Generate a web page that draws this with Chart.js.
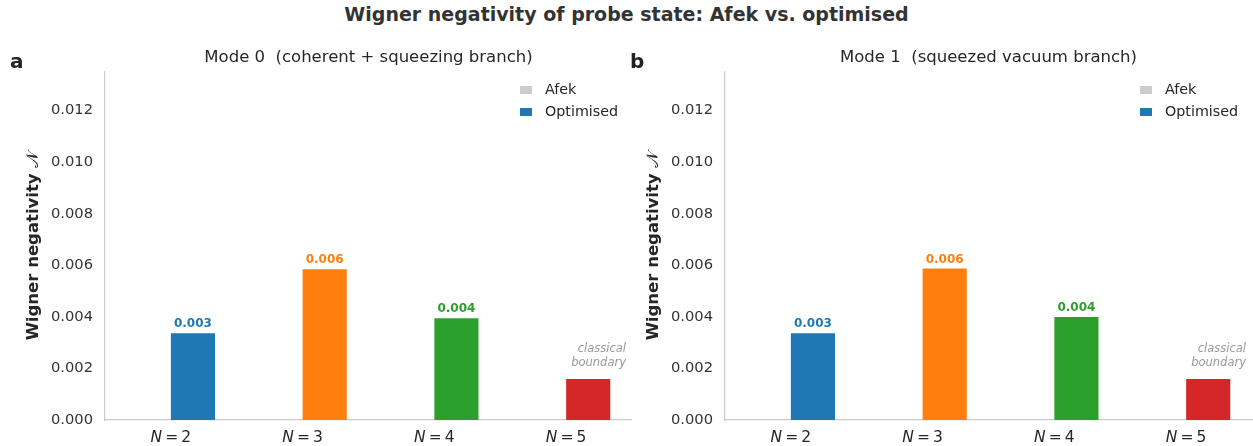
<!DOCTYPE html>
<html><head><meta charset="utf-8">
<script src="https://cdn.jsdelivr.net/npm/chart.js@4.4.1/dist/chart.umd.min.js"></script>
<style>
html,body{margin:0;padding:0;background:#fff;}
#wrap{position:relative;width:1253px;height:446px;overflow:hidden;}
#title{position:absolute;left:0;top:3px;width:1253px;text-align:center;font:bold 19px "DejaVu Sans";color:#333;}
canvas{position:absolute;top:0;}
</style></head>
<body><div id="wrap">
<div id="title">Wigner negativity of probe state: Afek vs. optimised</div>
<canvas id="c0" width="632" height="446" style="left:0px"></canvas>
<canvas id="c1" width="633" height="446" style="left:620px"></canvas>
</div>
<script>
const categories = ['2', '3', '4', '5'];
const afekMode0 = [0, 0, 0, 0];
const optMode0 = [0.00337, 0.00585, 0.00395, 0.00159];
const afekMode1 = [0, 0, 0, 0];
const optMode1 = [0.00337, 0.00588, 0.00400, 0.00159];
const barColors = ['#1f77b4', '#ff7f0e', '#2ca02c', '#d62728'];
const afekColor = '#cccccc';
const seriesNames = ['Afek', 'Optimised'];
const panelLetters = ['a', 'b'];
const panelTitles = ['Mode 0  (coherent + squeezing branch)', 'Mode 1  (squeezed vacuum branch)'];
const yTitle = 'Wigner negativity ';
const yTitleSym = '\u{1D4A9}';
const annotationLines = ['classical', 'boundary'];
const yMax = 0.0135, yStep = 0.002;

const FONT = '"DejaVu Sans"';

const decor = {
  id: 'decor',
  afterDraw(chart, args, o) {
    const ctx = chart.ctx, ca = chart.chartArea;
    const xs = chart.scales.x;
    ctx.save();
    // panel letter
    ctx.fillStyle = '#222';
    ctx.font = 'bold 20px ' + FONT;
    ctx.textAlign = 'left'; ctx.textBaseline = 'alphabetic';
    ctx.fillText(o.letter, 10, 68);
    // subtitle
    ctx.font = '16.5px ' + FONT;
    ctx.textAlign = 'center';
    ctx.fillStyle = '#262626';
    ctx.fillText(o.subtitle, (ca.left + ca.right) / 2, 62);
    // y title
    ctx.save();
    ctx.translate(34, (ca.top + ca.bottom) / 2);
    ctx.rotate(-Math.PI / 2);
    ctx.font = 'bold 16.5px ' + FONT;
    const w1 = ctx.measureText(yTitle).width;
    ctx.font = '16.5px ' + FONT;
    const w2 = ctx.measureText(yTitleSym).width;
    let sx = -(w1 + w2) / 2;
    ctx.textAlign = 'left'; ctx.textBaseline = 'middle';
    ctx.font = 'bold 16.5px ' + FONT;
    ctx.fillText(yTitle, sx, 0);
    ctx.font = '16.5px ' + FONT;
    ctx.fillText(yTitleSym, sx + w1, 0);
    ctx.restore();
    // x tick labels
    ctx.textBaseline = 'middle'; ctx.textAlign = 'left';
    ctx.fillStyle = '#262626';
    categories.forEach((c, i) => {
      const x = xs.getPixelForValue(i);
      ctx.font = 'italic 15.5px ' + FONT;
      const a = ctx.measureText('N').width;
      ctx.font = '15.5px ' + FONT;
      const b = ctx.measureText('\u2009=\u2009' + c).width;
      const s = x - (a + b) / 2;
      ctx.font = 'italic 15.5px ' + FONT;
      ctx.fillText('N', s, 438);
      ctx.font = '15.5px ' + FONT;
      ctx.fillText('\u2009=\u2009' + c, s + a, 438);
    });
    // value labels
    const meta = chart.getDatasetMeta(1);
    const vals = chart.data.datasets[1].data;
    meta.data.forEach((bar, i) => {
      if (i < vals.length - 1) {
        ctx.font = 'bold 12px ' + FONT;
        ctx.fillStyle = barColors[i];
        ctx.textAlign = 'center'; ctx.textBaseline = 'bottom';
        ctx.fillText(vals[i].toFixed(3), bar.x, bar.y - 3);
      } else {
        ctx.font = 'italic 11.5px ' + FONT;
        ctx.fillStyle = '#999999';
        ctx.textAlign = 'right'; ctx.textBaseline = 'alphabetic';
        ctx.fillText(annotationLines[0], ca.right - 6, bar.y - 27);
        ctx.fillText(annotationLines[1], ca.right - 6, bar.y - 13);
      }
    });
    // legend
    const lx = ca.right - 112;
    const cols = [afekColor, barColors[0]];
    seriesNames.forEach((n, i) => {
      const y = 90 + i * 22;
      ctx.fillStyle = cols[i];
      ctx.fillRect(lx, y - 4, 12, 8);
      ctx.fillStyle = '#262626';
      ctx.font = '14.3px ' + FONT;
      ctx.textAlign = 'left'; ctx.textBaseline = 'middle';
      ctx.fillText(n, lx + 25, y);
    });
    ctx.restore();
  }
};

function makeChart(id, afek, opt, idx, padRight) {
  return new Chart(document.getElementById(id), {
    type: 'bar',
    data: {
      labels: categories,
      datasets: [
        { label: seriesNames[0], data: afek, backgroundColor: afekColor },
        { label: seriesNames[1], data: opt, backgroundColor: barColors }
      ]
    },
    options: {
      responsive: false, animation: false, devicePixelRatio: 1,
      layout: { padding: { top: 72, bottom: 26, left: 0, right: padRight } },
      categoryPercentage: 0.67, barPercentage: 1,
      plugins: { legend: { display: false }, tooltip: { enabled: false },
        decor: { letter: panelLetters[idx], subtitle: panelTitles[idx] } },
      scales: {
        x: { grid: { display: false, drawTicks: false }, border: { color: '#cccccc', width: 1.2 },
             ticks: { display: false } },
        y: { min: 0, max: yMax, grid: { display: false, drawTicks: false },
             border: { color: '#cccccc', width: 1.2 },
             ticks: { stepSize: yStep, padding: 12, color: '#333', font: { family: 'DejaVu Sans', size: 14.7 },
                      callback: v => v.toFixed(3) },
             afterBuildTicks: s => { s.ticks = s.ticks.filter(t => Math.abs(t.value / yStep - Math.round(t.value / yStep)) < 1e-6); },
             afterFit: s => { s.width = 105; } }
      }
    },
    plugins: [decor]
  });
}
makeChart('c0', afekMode0, optMode0, 0, 0);
makeChart('c1', afekMode1, optMode1, 1, 1);
</script></body></html>
